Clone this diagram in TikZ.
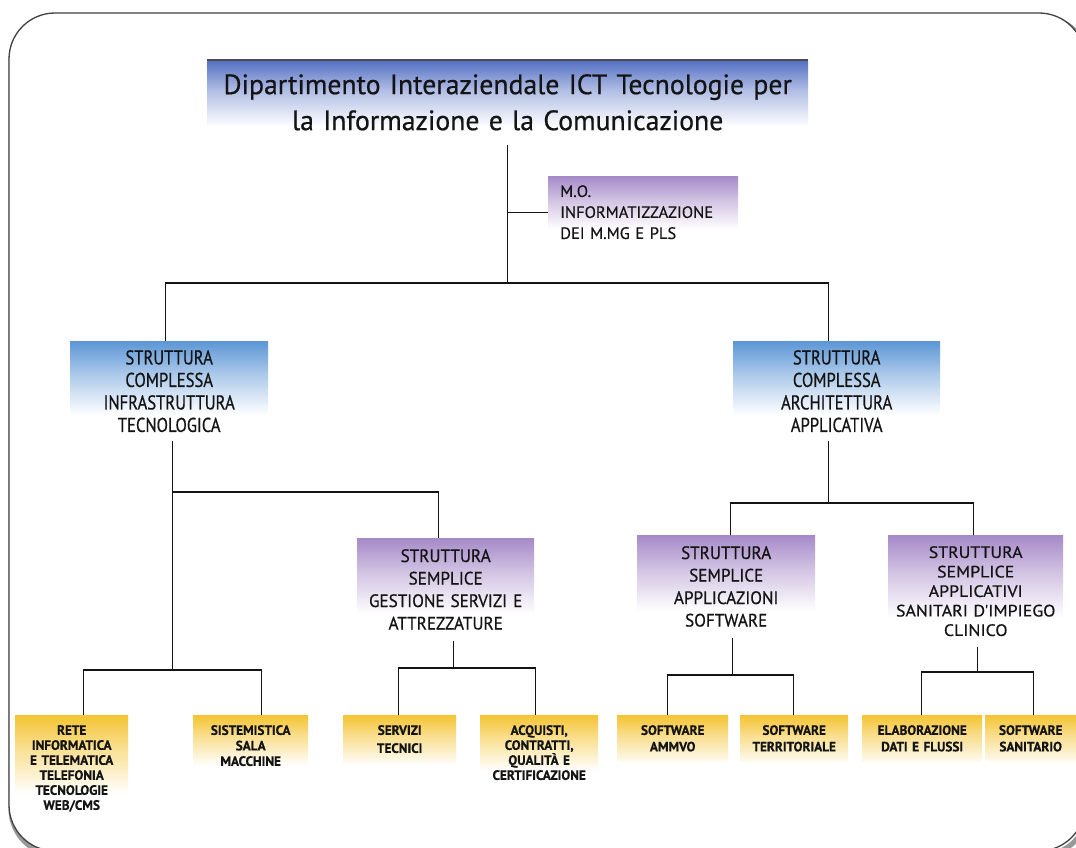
\documentclass[tikz,border=0pt]{standalone}
\usepackage{fontspec}
\setmainfont{PT Sans}
\newfontfamily\ttlfont[FakeStretch=0.99,FakeBold=0.6]{PT Sans}
\newfontfamily\mofont[FakeStretch=1.0,FakeBold=0.5]{PT Sans}
\newfontfamily\cndfont[FakeStretch=0.83,FakeBold=0.6]{PT Sans}
\newfontfamily\prpfont[FakeStretch=0.95,FakeBold=0.6]{PT Sans}
\newfontfamily\prcfont[FakeStretch=1.08,FakeBold=0.5]{PT Sans}
\newfontfamily\ylwfont[FakeStretch=0.98,FakeBold=0.6]{PT Sans}
\definecolor{tblue}{RGB}{84,112,196}
\definecolor{sblue}{RGB}{92,150,214}
\definecolor{purp}{RGB}{166,138,200}
\definecolor{gold}{RGB}{244,196,50}
\definecolor{ink}{RGB}{20,20,20}
\pgfdeclareverticalshading{fadetblue}{100bp}{color(0bp)=(white); color(25bp)=(white); color(38bp)=(white); color(58bp)=(tblue!45); color(75bp)=(tblue); color(100bp)=(tblue)}
\pgfdeclareverticalshading{fadesblue}{100bp}{color(0bp)=(white); color(25bp)=(white); color(38bp)=(white); color(58bp)=(sblue!50); color(75bp)=(sblue); color(100bp)=(sblue)}
\pgfdeclareverticalshading{fadepurp}{100bp}{color(0bp)=(white); color(25bp)=(white); color(38bp)=(white); color(58bp)=(purp!50); color(75bp)=(purp); color(100bp)=(purp)}
\pgfdeclareverticalshading{fadegold}{100bp}{color(0bp)=(white); color(25bp)=(white); color(38bp)=(white); color(60bp)=(gold!55); color(75bp)=(gold); color(100bp)=(gold)}
\begin{document}
\begin{tikzpicture}[x=1pt,y=-1pt,
  conn/.style={draw=ink, line width=1.1pt},
  shbox/.style n args={2}{path picture={\shade[shading=#1]
     (path picture bounding box.north west) rectangle ([yshift=-#2]path picture bounding box.north east);}},
  box/.style={anchor=north west, inner xsep=2pt, align=center, text=ink},
  ttlbox/.style={box, text width=597pt, inner ysep=14pt, shbox={fadetblue}{90},
     font={\ttlfont\fontsize{28}{36}\selectfont}},
  mobox/.style={box, align=left, text width=166pt, inner xsep=12pt, inner ysep=9pt, shbox={fadepurp}{72},
     font={\mofont\fontsize{16.5}{21}\selectfont}},
  scbox/.style={box, inner ysep=9pt, shbox={fadesblue}{95},
     font={\cndfont\fontsize{20}{22.5}\selectfont}},
  ssbox/.style={box, inner ysep=11pt, shbox={fadepurp}{100},
     font={\prpfont\fontsize{18}{22.5}\selectfont}},
  ylbox/.style={box, inner ysep=10pt, shbox={fadegold}{68},
     font={\ylwfont\bfseries\fontsize{13.5}{15.5}\selectfont}}
]
\useasboundingbox (0,0) rectangle (1076,848);
\fill[white] (0,0) rectangle (1076,848);
% frame with shadow
\draw[line width=5pt, black!40, rounded corners=46pt] (11,17) rectangle (1088,855);
\draw[line width=1.3pt, black!75, fill=white, rounded corners=46pt] (9,13) rectangle (1085,851);

% nodes
\node[ttlbox] (title) at (207,60) {Dipartimento Interaziendale ICT Tecnologie per\\la Informazione e la Comunicazione};
\draw[line width=2pt, black!70] (title.north west) -- (title.north east);
\node[mobox] (mo) at (548,176) {M.O.\\INFORMATIZZAZIONE\\DEI M.MG E PLS};

\node[scbox, text width=194pt] (scL) at (70,341) {STRUTTURA\\COMPLESSA\\INFRASTRUTTURA\\TECNOLOGICA};
\node[scbox, text width=203pt] (scR) at (733,341) {STRUTTURA\\COMPLESSA\\ARCHITETTURA\\APPLICATIVA};

\node[ssbox, text width=173pt] (ssG) at (357,538) {STRUTTURA\\SEMPLICE\\GESTIONE SERVIZI E\\ATTREZZATURE};
\node[ssbox, text width=174pt] (ssA) at (637,535) {STRUTTURA\\SEMPLICE\\APPLICAZIONI\\SOFTWARE};
\node[ssbox, text width=171pt, font={\prcfont\fontsize{16.5}{19.5}\selectfont}] (ssC) at (888,535) {STRUTTURA\\SEMPLICE\\APPLICATIVI\\SANITARI D'IMPIEGO\\CLINICO};

\node[ylbox, text width=109pt, font={\ylwfont\bfseries\fontsize{13.5}{15}\selectfont}, shbox={fadegold}{95}] (y1) at (15,715) {RETE\\INFORMATICA\\E TELEMATICA\\TELEFONIA\\TECNOLOGIE\\WEB/CMS};
\node[ylbox, text width=111pt] (y2) at (193,715) {SISTEMISTICA\\SALA\\MACCHINE};
\node[ylbox, text width=109pt, font={\ylwfont\bfseries\fontsize{13.5}{18}\selectfont}] (y3) at (343,715) {SERVIZI\\TECNICI};
\node[ylbox, text width=114pt, font={\ylwfont\bfseries\fontsize{13.5}{15}\selectfont}] (y4) at (480,715) {ACQUISTI,\\CONTRATTI,\\QUALITÀ E\\CERTIFICAZIONE};
\node[ylbox, text width=107pt, font={\ylwfont\bfseries\fontsize{13.5}{16.5}\selectfont}] (y5) at (617,715) {SOFTWARE\\AMMVO};
\node[ylbox, text width=104pt, font={\ylwfont\bfseries\fontsize{13.5}{16.5}\selectfont}] (y6) at (740,715) {SOFTWARE\\TERRITORIALE};
\node[ylbox, text width=116pt, font={\ylwfont\bfseries\fontsize{13.5}{16.5}\selectfont}] (y7) at (862,715) {ELABORAZIONE\\DATI E FLUSSI};
\node[ylbox, text width=87pt, font={\ylwfont\bfseries\fontsize{13.5}{16.5}\selectfont}] (y8) at (985,715) {SOFTWARE\\SANITARIO};

% level coordinates
\coordinate (b1) at (0,283);
\coordinate (b2) at (0,492);
\coordinate (b3) at (0,670);
\coordinate (b4) at (0,668);
\coordinate (b5) at (0,503);
\coordinate (b6) at (0,675);
\coordinate (b7) at (0,672);

% top level
\draw[conn] (title.south) -- (title.south |- b1);
\draw[conn] (title.south |- mo.west) -- (mo.west);
\coordinate (tL) at ([xshift=-4pt]scL.north);
\coordinate (tR) at ([xshift=-8pt]scR.north);
\draw[conn] (tL) -- (tL |- b1) -- (tR |- b1) -- (tR);

% left subtree
\coordinate (sL) at ([xshift=3pt]scL.south);
\coordinate (gT) at ([xshift=-7pt]ssG.north);
\coordinate (y1T) at ([xshift=12pt]y1.north);
\coordinate (y2T) at ([xshift=11pt]y2.north);
\draw[conn] (sL) -- (sL |- b3);
\draw[conn] (sL |- b2) -- (gT |- b2) -- (gT);
\draw[conn] (y1T) -- (y1T |- b3) -- (y2T |- b3) -- (y2T);

\coordinate (gB) at ([xshift=8pt]ssG.south);
\coordinate (y3T) at ([xshift=-1.5pt]y3.north);
\coordinate (y4T) at ([xshift=-4pt]y4.north);
\draw[conn] (gB) -- (gB |- b4);
\draw[conn] (y3T) -- (y3T |- b4) -- (y4T |- b4) -- (y4T);

% right subtree
\coordinate (sR) at ([xshift=-8pt]scR.south);
\coordinate (aT) at ([xshift=4pt]ssA.north);
\coordinate (cT) at ([xshift=-2pt]ssC.north);
\draw[conn] (sR) -- (sR |- b5);
\draw[conn] (aT) -- (aT |- b5) -- (cT |- b5) -- (cT);

\coordinate (aB) at ([xshift=6pt]ssA.south);
\coordinate (y5T) at ([xshift=-5.5pt]y5.north);
\coordinate (y6T) at ([xshift=-1pt]y6.north);
\draw[conn] (aB) -- (aB |- b6);
\draw[conn] (y5T) -- (y5T |- b6) -- (y6T |- b6) -- (y6T);

\coordinate (cB) at ([xshift=2pt]ssC.south);
\coordinate (y7T) at ([xshift=-1pt]y7.north);
\coordinate (y8T) at ([xshift=2.5pt]y8.north);
\draw[conn] (cB) -- (cB |- b7);
\draw[conn] (y7T) -- (y7T |- b7) -- (y8T |- b7) -- (y8T);
\end{tikzpicture}
\end{document}
